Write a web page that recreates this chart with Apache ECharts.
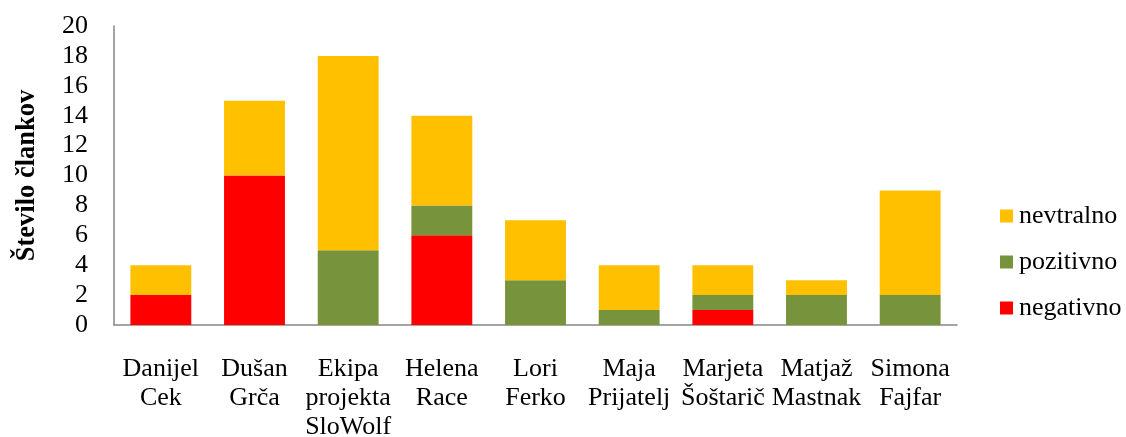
<!DOCTYPE html>
<html>
<head>
<meta charset="utf-8">
<script src="https://cdn.jsdelivr.net/npm/echarts@6/dist/echarts.min.js"></script>
<style>
    html, body { margin: 0; padding: 0; background: #fff; }
    #chart { width: 1126px; height: 437px; }
</style>
</head>
<body>
<div id="chart"></div>
<script>
    var categories = ['Danijel\nCek', 'Dušan\nGrča', 'Ekipa\nprojekta\nSloWolf', 'Helena\nRace', 'Lori\nFerko',
        'Maja\nPrijatelj', 'Marjeta\nŠoštarič', 'Matjaž\nMastnak', 'Simona\nFajfar'];
    var negativno = [2, 10, 0, 6, 0, 0, 1, 0, 0];
    var pozitivno = [0, 0, 5, 2, 3, 1, 1, 2, 2];
    var nevtralno = [2, 5, 13, 6, 4, 3, 2, 1, 7];

    var font = 'Liberation Serif';

    var chart = echarts.init(document.getElementById('chart'));
    chart.setOption({
        animation: false,
        textStyle: { fontFamily: font },
        grid: { left: 114, right: 169, top: 26, bottom: 112, outerBoundsMode: 'none' },
        legend: {
            orient: 'vertical',
            left: 1000,
            top: 203,
            padding: 0,
            itemWidth: 13,
            itemHeight: 13,
            itemGap: 20,
            icon: 'rect',
            data: ['nevtralno', 'pozitivno', 'negativno'],
            textStyle: { fontFamily: font, fontSize: 26, color: '#000', padding: [0, 0, 0, 1] }
        },
        xAxis: {
            type: 'category',
            data: categories,
            axisLine: { lineStyle: { color: '#868686', width: 1.5 } },
            axisTick: { show: false },
            axisLabel: {
                interval: 0,
                color: '#000',
                fontFamily: font,
                fontSize: 26,
                lineHeight: 29,
                margin: 30
            }
        },
        yAxis: {
            type: 'value',
            min: 0,
            max: 20,
            interval: 2,
            name: 'Število člankov',
            nameLocation: 'middle',
            nameGap: 73,
            nameTextStyle: { fontFamily: font, fontSize: 26.5, fontWeight: 'bold', color: '#000' },
            axisLine: { show: true, lineStyle: { color: '#868686', width: 1.5 } },
            axisTick: { show: false },
            splitLine: { show: false },
            axisLabel: { color: '#000', fontFamily: font, fontSize: 26, margin: 26 }
        },
        series: [
            { name: 'negativno', type: 'bar', stack: 'total', barWidth: '65%', data: negativno, itemStyle: { color: '#FF0000' } },
            { name: 'pozitivno', type: 'bar', stack: 'total', barWidth: '65%', data: pozitivno, itemStyle: { color: '#77933C' } },
            { name: 'nevtralno', type: 'bar', stack: 'total', barWidth: '65%', data: nevtralno, itemStyle: { color: '#FFC000' } }
        ]
    });
</script>
</body>
</html>
